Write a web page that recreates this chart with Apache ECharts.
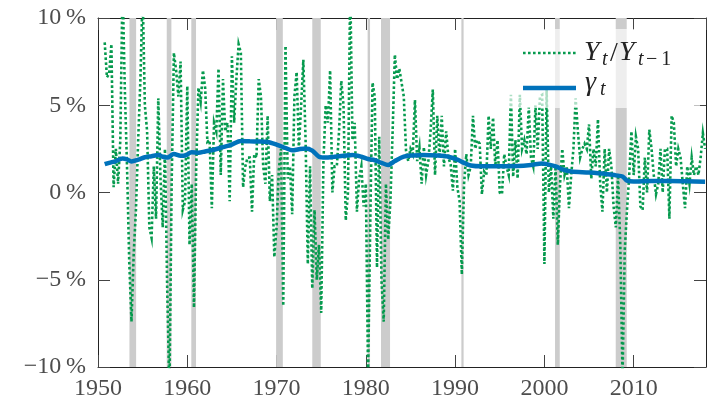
<!DOCTYPE html>
<html>
<head>
<meta charset="utf-8">
<script src="https://cdn.jsdelivr.net/npm/echarts@6/dist/echarts.min.js"></script>
<style>
html,body{margin:0;padding:0;background:#fff;}
#chart{width:707px;height:401px;}
</style>
</head>
<body>
<div id="chart"></div>
<script>
// Quarterly growth Y_t/Y_{t-1} (annualized, %), one array per decade
const g1950s = [8.6,
  6.6, 6.8, 8.5, 0.3,
  2.5, 0.5, 3.0, 12.0,
  6.0, 1.5, -4.0, -7.4,
  -3.5, -1.0, 3.0, 6.5,
  11.5, 5.0, 3.5, -2.0,
  -2.6, 1.5, -1.5, 5.4,
  0.8, -2.0, 2.5, -5.5,
  -11.5, 0.5, 8.0, 7.0,
  5.5, 7.5, -1.0, -0.5];
const g1960s = [6.1, -3.0, 0.5, -6.6,
  1.5, 6.0, 5.2, 7.0,
  6.0, 2.9, 3.0, -0.9,
  4.0, 3.5, 7.1, 1.0,
  6.5, 3.5, 4.0, -0.5,
  7.8, 4.0, 6.5, 8.5,
  8.0, 0.3, 1.5, 2.0,
  2.0, -1.1, 2.2, 2.0,
  6.5, 5.5, 1.5, 0.5,
  4.4, -0.5, 1.0, -3.7];
const g1970s = [-2.0, 1.3, 2.5, -6.5,
  8.4, 0.8, 1.5, -1.25,
  5.5, 6.9, 2.5, 5.0,
  7.6, 3.0, -4.1, 1.5,
  -5.5, -1.0, -5.0, -3.0,
  -6.9, 1.8, 5.0, 4.0,
  7.0, 0.0, 1.5, 1.5,
  3.5, 6.4, 5.0, -1.6,
  0.0, 12.0, 3.0, 4.0,
  -1.1, 0.8, 1.5, -0.8];
const g1980s = [0.5, -10.5, -1.5, 6.3,
  5.5, -4.3, 3.2, -5.0,
  -7.4, 0.5, -2.7, -0.5,
  3.5, 7.9, 6.5, 7.1,
  6.3, 5.5, 2.4, 1.8,
  2.5, 2.2, 5.3, 1.8,
  2.6, 0.5, 2.6, 1.0,
  1.8, 3.5, 5.9, 1.0,
  4.4, 2.0, 4.4, 1.5,
  3.5, 2.0, 1.6, 0.1];
const g1990s = [2.5, 0.3, -0.5, -4.7,
  0.5, 2.2, 1.0, 1.5,
  4.4, 2.5, 3.0, 2.8,
  -0.1, 1.2, 1.0, 4.4,
  2.5, 4.3, 1.5, 3.0,
  0.0, -0.1, 2.2, 1.5,
  1.0, 5.6, 0.9, 3.0,
  0.8, 5.6, 2.5, 3.0,
  2.2, 4.9, 2.0, 1.5,
  5.0, 2.5, 5.5, 5.6];
const g2000s = [-4.1, 5.9, 0.0, 1.5,
  -1.5, 1.5, -3.0, 0.5,
  2.5, 1.0, 1.5, -0.9,
  1.0, 2.5, 5.4, 3.5,
  2.0, 2.5, 2.8, 2.5,
  3.9, 0.8, 2.5, 1.5,
  4.2, 0.5, -1.1, 2.5,
  0.0, 2.5, 1.5, -0.8,
  -2.0, 1.0, -3.0, -10.5,
  -3.3, -1.0, 1.0, 3.5];
const g2010s = [1.0, 3.2, 2.5, -0.8,
  -1.0, 2.0, 0.0, 3.6,
  2.5, 1.0, -0.1, 0.5,
  2.5, 0.0, 2.5, 2.5,
  -1.5, 4.4, 4.0, 1.5,
  2.5, 2.0, 0.5, -0.9,
  1.5, 0.5, 2.0, 1.0,
  1.5, 1.0, 2.0, 3.4,
  2.5];
const decadeStarts = [1950.75, 1960, 1970, 1980, 1990, 2000, 2010];
const decadeValues = [g1950s, g1960s, g1970s, g1980s, g1990s, g2000s, g2010s];

// Trend growth gamma_t
const gammaYears = [1950.75,1951.25,1952.0,1952.75,1953.25,1953.75,1954.5,1955.25,1956.0,1956.75,1957.25,1957.75,1958.5,1959.25,1959.75,1960.5,1961.25,1962.0,1963.0,1964.0,1965.0,1966.0,1967.0,1968.0,1969.0,1970.0,1971.0,1971.75,1972.5,1973.25,1974.0,1974.75,1975.5,1976.5,1977.5,1978.5,1979.5,1980.25,1981.0,1981.75,1982.5,1983.25,1984.25,1985.25,1986.5,1988.0,1989.25,1990.25,1991.0,1991.75,1993.0,1995.0,1997.0,1998.5,1999.75,2000.5,2001.25,2002.0,2003.0,2005.0,2006.75,2008.0,2008.75,2009.25,2010.0,2012.0,2014.0,2016.0,2018.0];
const gammaValues = [1.62,1.7,1.8,1.95,1.9,1.78,1.88,2.02,2.08,2.15,2.05,2.0,2.2,2.1,2.12,2.3,2.28,2.35,2.45,2.6,2.75,2.95,2.93,2.92,2.9,2.75,2.55,2.42,2.48,2.52,2.4,2.05,2.0,2.05,2.1,2.15,2.05,1.92,1.85,1.7,1.58,1.8,2.05,2.12,2.15,2.12,2.05,1.88,1.7,1.55,1.5,1.5,1.52,1.58,1.66,1.6,1.5,1.32,1.2,1.15,1.08,0.98,0.92,0.68,0.63,0.66,0.66,0.64,0.62];

// Recessions (shaded)
const recStart = [1953.52, 1957.7, 1960.45, 1969.95, 1974.0, 1980.2, 1981.7, 1990.7, 2001.19, 2007.99];
const recEnd   = [1954.27, 1958.22, 1960.98, 1970.7, 1974.95, 1980.47, 1982.71, 1990.95, 2001.72, 2009.22];

const xTickYears = [1950, 1960, 1970, 1980, 1990, 2000, 2010];
const yTicks = [-10, -5, 0, 5, 10];

const growthData = [];
decadeStarts.forEach((s, k) => decadeValues[k].forEach((v, i) => growthData.push([s + i * 0.25, v])));
const gammaData = gammaYears.map((t, i) => [t, gammaValues[i]]);
const recData = recStart.map((s, i) => [s, recEnd[i]]);

const FONT = '"Liberation Serif", "DejaVu Serif", serif';
const TXT = '#4d4d4d';
const GREEN = '#069a4e';
const BLUE = '#0072bb';

const axisLine = {show: true, onZero: false, lineStyle: {color: '#222', width: 1}};
const tick = {show: true, inside: true, length: 12, lineStyle: {color: '#444', width: 1}};

const xBase = {type: 'value', min: 1950, max: 2018.1, interval: 10,
  axisLine: axisLine, axisTick: tick, splitLine: {show: false}};
const yBase = {type: 'value', min: yTicks[0], max: yTicks[yTicks.length - 1], interval: 5,
  axisLine: axisLine, axisTick: tick, splitLine: {show: false}};

const chart = echarts.init(document.getElementById('chart'), null, {renderer: 'canvas'});
chart.setOption({
  animation: false,
  backgroundColor: '#fff',
  grid: {left: 98, right: 1, top: 18, bottom: 31, containLabel: false},
  xAxis: [
    Object.assign({}, xBase, {position: 'bottom',
      axisLabel: {show: true, margin: 10, color: TXT, fontFamily: FONT, fontSize: 24,
        showMaxLabel: false,
        formatter: v => xTickYears.indexOf(Math.round(v * 100) / 100) >= 0 ? String(v) : ''}}),
    Object.assign({}, xBase, {position: 'top', axisLabel: {show: false}})
  ],
  yAxis: [
    Object.assign({}, yBase, {position: 'left',
      axisLabel: {show: true, margin: 12, color: TXT, fontFamily: FONT, fontSize: 24,
        formatter: v => (v < 0 ? '\u2212' + Math.abs(v) : String(v)) + '\u2009%'}}),
    Object.assign({}, yBase, {position: 'right', axisLabel: {show: false}})
  ],
  series: [
    {
      type: 'custom', name: 'recessions', z: 1, silent: true,
      xAxisIndex: 0, yAxisIndex: 0,
      encode: {x: [0, 1]},
      data: recData,
      renderItem: function (params, api) {
        const a = api.coord([api.value(0), yTicks[yTicks.length - 1]]);
        const b = api.coord([api.value(1), yTicks[0]]);
        return {type: 'rect', shape: {x: a[0], y: a[1], width: b[0] - a[0], height: b[1] - a[1]},
          style: {fill: '#cccccc'}};
      }
    },
    {
      type: 'line', name: 'growth', z: 2, xAxisIndex: 0, yAxisIndex: 0,
      data: growthData, showSymbol: false, symbol: 'none', clip: true,
      lineStyle: {color: GREEN, width: 2.6, type: [2.6, 2.4], cap: 'butt', join: 'miter'}
    },
    {
      type: 'line', name: 'gamma', z: 3, xAxisIndex: 0, yAxisIndex: 0,
      data: gammaData, showSymbol: false, symbol: 'none', smooth: 0.3, clip: true,
      lineStyle: {color: BLUE, width: 4.5}
    }
  ],
  graphic: [
    {type: 'rect', z: 100, silent: true, shape: {x: 508, y: 29, width: 192, height: 79},
      style: {fill: 'rgba(255,255,255,0.67)'}},
    {type: 'line', z: 101, shape: {x1: 523, y1: 53, x2: 576, y2: 53},
      style: {stroke: GREEN, lineWidth: 2.6, lineDash: [2.6, 2.4]}},
    {type: 'line', z: 101, shape: {x1: 523, y1: 88, x2: 576, y2: 88},
      style: {stroke: BLUE, lineWidth: 4.5}},
    {type: 'text', z: 101, x: 584, y: 53, style: {text: 'Y', font: 'italic 28px ' + FONT, fill: '#222', textVerticalAlign: 'middle'}},
    {type: 'text', z: 101, x: 602, y: 60, style: {text: 't', font: 'italic 20px ' + FONT, fill: '#222', textVerticalAlign: 'middle'}},
    {type: 'text', z: 101, x: 610, y: 54, style: {text: '/', font: '28px ' + FONT, fill: '#222', textVerticalAlign: 'middle'}},
    {type: 'text', z: 101, x: 619, y: 53, style: {text: 'Y', font: 'italic 28px ' + FONT, fill: '#222', textVerticalAlign: 'middle'}},
    {type: 'text', z: 101, x: 638, y: 60, style: {text: 't', font: 'italic 20px ' + FONT, fill: '#222', textVerticalAlign: 'middle'}},
    {type: 'text', z: 101, x: 646, y: 60, style: {text: '\u2212\u20091', font: '20px ' + FONT, fill: '#222', textVerticalAlign: 'middle'}},
    {type: 'text', z: 101, x: 585, y: 83, style: {text: '\u03b3', font: 'italic 28px ' + FONT, fill: '#222', textVerticalAlign: 'middle'}},
    {type: 'text', z: 101, x: 600, y: 90, style: {text: 't', font: 'italic 20px ' + FONT, fill: '#222', textVerticalAlign: 'middle'}}
  ]
});
</script>
</body>
</html>
